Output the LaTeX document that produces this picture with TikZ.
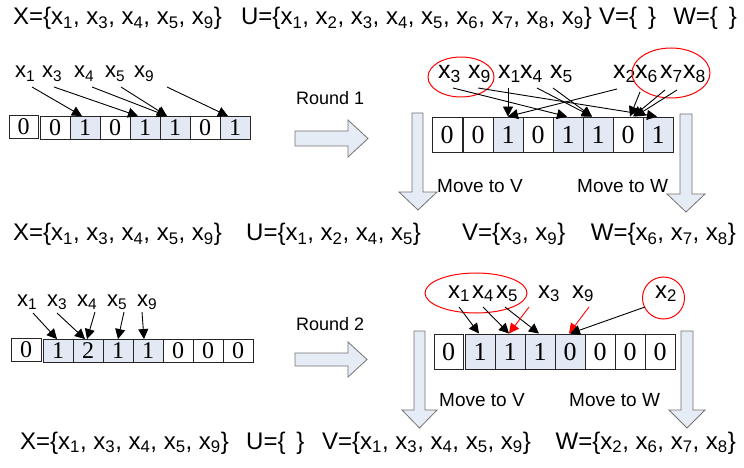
\documentclass[tikz,border=0pt]{standalone}
\usepackage{fontspec}
\setmainfont{Liberation Sans}
\newfontfamily\numfont{Liberation Serif}
\usetikzlibrary{arrows.meta}
\definecolor{cellblue}{HTML}{E3E9F4}
\definecolor{arrfill}{HTML}{E6ECF6}
\definecolor{arrdraw}{HTML}{737373}
\newcommand\xs[1]{x\textsubscript{#1}}
\newcommand\sep{, }
\newcommand\emptyx{\hspace{0.45em}}
\begin{document}
\begin{tikzpicture}[x=1pt,y=-1pt,
  cell/.style={draw=black!85,line width=0.9pt,inner sep=0pt,minimum width=30pt,minimum height=23pt,font=\numfont\fontsize{24}{24}\selectfont},
  tallcell/.style={cell,minimum height=35pt,font=\numfont\fontsize{26}{26}\selectfont},
  lab/.style={anchor=base west,inner sep=0pt,font=\fontsize{22}{22}\selectfont},
  midlab/.style={lab,font=\fontsize{24}{24}\selectfont},
  biglab/.style={lab,font=\fontsize{25}{25}\selectfont},
  setline/.style={anchor=base west,inner sep=0pt,font=\fontsize{24}{24}\selectfont},
  setlineR/.style={setline,anchor=base east},
  arr/.style={black,line width=0.9pt,-{Triangle[length=10pt,width=10pt]}},
  redarr/.style={arr,red},
  block/.style={draw=arrdraw,fill=arrfill,line width=0.8pt},
  ring/.style={draw=red,line width=1pt},
  note/.style={anchor=west,inner sep=0pt,font=\fontsize{19}{19}\selectfont},
  roundlab/.style={anchor=west,inner sep=0pt,font=\fontsize{18}{18}\selectfont}]
\fill[white] (0,0) rectangle (744,468);
\useasboundingbox (0,0) rectangle (744,468);

% ---------- set lines ----------
\node[setline] (sX1) at (13,25) {X=\{\xs{1}\sep\xs{3}\sep\xs{4}\sep\xs{5}\sep\xs{9}\}};
\node[setlineR] (sU1) at (592,25) {U=\{\xs{1}\sep\xs{2}\sep\xs{3}\sep\xs{4}\sep\xs{5}\sep\xs{6}\sep\xs{7}\sep\xs{8}\sep\xs{9}\}};
\node[setline] (sV1) at (599,25) {V=\{\emptyx\}};
\node[setlineR] (sW1) at (737,25) {W=\{\emptyx\}};

\node[setline] (sX2) at (13,240.5) {X=\{\xs{1}\sep\xs{3}\sep\xs{4}\sep\xs{5}\sep\xs{9}\}};
\node[setline] (sU2) at (246,240.5) {U=\{\xs{1}\sep\xs{2}\sep\xs{4}\sep\xs{5}\}};
\node[setline] (sV2) at (462,240.5) {V=\{\xs{3}\sep\xs{9}\}};
\node[setlineR] (sW2) at (736,240.5) {W=\{\xs{6}\sep\xs{7}\sep\xs{8}\}};

\node[setline] (sX3) at (20,449) {X=\{\xs{1}\sep\xs{3}\sep\xs{4}\sep\xs{5}\sep\xs{9}\}};
\node[setline] (sU3) at (246,449) {U=\{\emptyx\}};
\node[setline] (sV3) at (322,449) {V=\{\xs{1}\sep\xs{3}\sep\xs{4}\sep\xs{5}\sep\xs{9}\}};
\node[setlineR] (sW3) at (736,449) {W=\{\xs{2}\sep\xs{6}\sep\xs{7}\sep\xs{8}\}};

% ---------- block arrows ----------
\draw[block] (295,131) -- (348,131) -- (348,120) -- (368,138.5) -- (348,157) -- (348,146) -- (295,146) -- cycle;
\draw[block] (295,353) -- (348,353) -- (348,342) -- (367,359.5) -- (348,377) -- (348,366) -- (295,366) -- cycle;
\draw[block] (412,113) -- (423,113) -- (423,192) -- (437,192) -- (418,210) -- (399,192) -- (412,192) -- cycle;
\draw[block] (680,114) -- (692,114) -- (692,194) -- (705,194) -- (686,212) -- (667,194) -- (680,194) -- cycle;
\draw[block] (414,331) -- (425,331) -- (425,410) -- (437,410) -- (419.5,428) -- (402,410) -- (414,410) -- cycle;
\draw[block] (681,331) -- (693,331) -- (693,410) -- (705,410) -- (687,428) -- (669,410) -- (681,410) -- cycle;

\node[roundlab] (rd1) at (296,98) {Round 1};
\node[roundlab] (rd2) at (296,324) {Round 2};
\node[note] (mv1) at (437,186) {Move to V};
\node[note] (mw1) at (577,186) {Move to W};
\node[note] (mv2) at (439,400) {Move to V};
\node[note] (mw2) at (569,400) {Move to W};

% ---------- round 1, left array ----------
\node[cell,minimum width=29pt] (a1) at (23.5,127) {0};
\foreach \v/\c [count=\i from 2] in {0/white,1/cellblue,0/white,1/cellblue,1/cellblue,0/white,1/cellblue}
  \node[cell,fill=\c] (a\i) at ({55+30*(\i-2)},128) {\v};
\node[lab] (ax1) at (15,78) {\xs{1}};
\node[lab] (ax3) at (42,78) {\xs{3}};
\node[lab] (ax4) at (74,78) {\xs{4}};
\node[lab] (ax5) at (105,78) {\xs{5}};
\node[lab] (ax9) at (134,78) {\xs{9}};
\draw[arr] ([shift={(17,9)}]ax1.base west) -- ([xshift=-3]a3.north);
\draw[arr] ([shift={(12,9)}]ax3.base west) -- ([xshift=-7]a5.north);
\draw[arr] ([shift={(18,9)}]ax4.base west) -- ([xshift=-8]a6.north);
\draw[arr] ([shift={(16,9)}]ax5.base west) -- ([xshift=-8]a6.north);
\draw[arr] ([shift={(33,9)}]ax9.base west) -- ([xshift=-7]a8.north);

% ---------- round 1, right array ----------
\node[tallcell] (b1) at (447,134.5) {0};
\foreach \v/\c [count=\i from 2] in {0/white,1/cellblue,0/white,1/cellblue,1/cellblue,0/white,1/cellblue}
  \node[tallcell,fill=\c] (b\i) at ({478+30*(\i-2)},134.5) {\v};
\node[biglab] (bx3) at (438,79) {\xs{3}};
\node[biglab] (bx9) at (468,79) {\xs{9}};
\node[biglab] (bx1) at (498,79) {\xs{1}};
\node[biglab] (bx4) at (520,79) {\xs{4}};
\node[biglab] (bx5) at (550,79) {\xs{5}};
\node[biglab] (bx2) at (613,79) {\xs{2}};
\node[biglab] (bx6) at (635,79) {\xs{6}};
\node[biglab] (bx7) at (660,79) {\xs{7}};
\node[biglab] (bx8) at (683,79) {\xs{8}};
\draw[ring] (461,77) ellipse [x radius=33, y radius=20];
\draw[ring] (671,73) ellipse [x radius=39, y radius=25];
\draw[arr] ([shift={(15,9)}]bx3.base west) -- ([xshift=-1]b5.north);
\draw[arr] ([shift={(10,9)}]bx9.base west) -- ([xshift=-1]b8.north);
\draw[arr] ([shift={(10,9)}]bx1.base west) -- (b3.north);
\draw[arr] ([shift={(17,9)}]bx4.base west) -- ([xshift=-6]b6.north);
\draw[arr] ([shift={(3,9)}]bx5.base west) -- ([xshift=-6]b6.north);
\draw[arr] ([shift={(4,10)}]bx2.base west) -- (b3.north);
\draw[arr] ([shift={(5,13)}]bx6.base west) -- ([xshift=2]b7.north);
\draw[arr] ([shift={(5,11)}]bx7.base west) -- ([xshift=5]b7.north);
\draw[arr] ([shift={(-6,11)}]bx8.base west) -- ([xshift=7]b7.north);

% ---------- round 2, left array ----------
\node[cell] (c1) at (26,350) {0};
\foreach \v/\c [count=\i from 2] in {1/cellblue,2/cellblue,1/cellblue,1/cellblue,0/white,0/white,0/white}
  \node[cell,fill=\c] (c\i) at ({58+30*(\i-2)},351) {\v};
\node[lab] (cx1) at (17,306) {\xs{1}};
\node[lab] (cx3) at (47,306) {\xs{3}};
\node[lab] (cx4) at (77,306) {\xs{4}};
\node[lab] (cx5) at (107,306) {\xs{5}};
\node[lab] (cx9) at (137,306) {\xs{9}};
\draw[arr] ([shift={(16,7)}]cx1.base west) -- ([xshift=-1]c2.north);
\draw[arr] ([shift={(10,7)}]cx3.base west) -- ([xshift=-3]c3.north);
\draw[arr] ([shift={(18,6)}]cx4.base west) -- ([xshift=-1]c3.north);
\draw[arr] ([shift={(17,6)}]cx5.base west) -- (c4.north);
\draw[arr] ([shift={(5,6)}]cx9.base west) -- ([xshift=-4]c5.north);

% ---------- round 2, right array ----------
\node[tallcell,minimum width=29pt] (d1) at (448.5,351.5) {0};
\foreach \v/\c [count=\i from 2] in {1/cellblue,1/cellblue,1/cellblue,0/cellblue,0/white,0/white,0/white}
  \node[tallcell,fill=\c] (d\i) at ({480+30*(\i-2)},351.5) {\v};
\node[midlab] (dx1) at (448,298) {\xs{1}};
\node[midlab] (dx4) at (472,298) {\xs{4}};
\node[midlab] (dx5) at (496,298) {\xs{5}};
\node[midlab] (dx3) at (538,298) {\xs{3}};
\node[midlab] (dx9) at (572,298) {\xs{9}};
\node[midlab] (dx2) at (655,298) {\xs{2}};
\draw[ring] (476,293) ellipse [x radius=51, y radius=20];
\draw[ring] (663.5,298) circle [radius=21];
\draw[arr] ([shift={(11,9)}]dx1.base west) -- ([xshift=-1]d2.north);
\draw[arr] ([shift={(11,9)}]dx4.base west) -- ([xshift=-1]d3.north);
\draw[arr] ([shift={(9,9)}]dx5.base west) -- ([xshift=-1]d4.north);
\draw[redarr] ([shift={(-9,9)}]dx3.base west) -- ([xshift=-1]d3.north);
\draw[redarr] ([shift={(17,9)}]dx9.base west) -- ([xshift=-1]d5.north);
\draw[arr] ([shift={(-10,9)}]dx2.base west) -- (d5.north);
\end{tikzpicture}
\end{document}
